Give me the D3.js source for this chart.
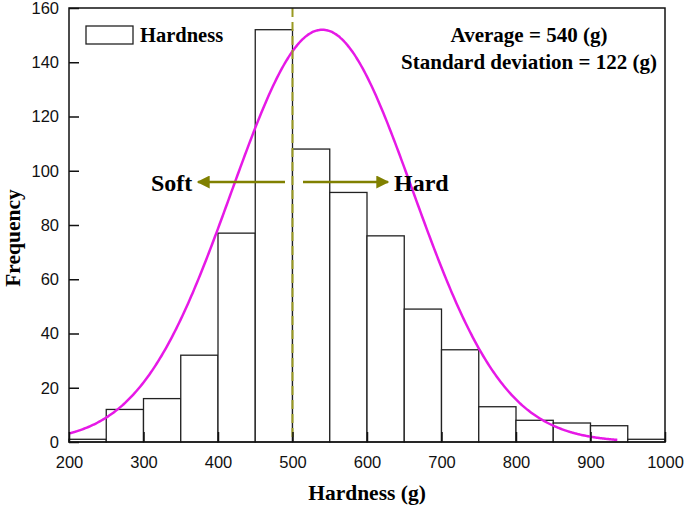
<!DOCTYPE html>
<html><head><meta charset="utf-8">
<script src="https://cdn.jsdelivr.net/npm/d3@7"></script>
<style>body{margin:0;background:#fff}</style>
</head><body>
<svg id="c" width="685" height="507"></svg>
<script>
const binStarts = [200,250,300,350,400,450,500,550,600,650,700,750,800,850,900,950];
const binWidth = 50;
const frequencies = [1,12,16,32,77,152,108,92,76,49,34,13,8,7,6,1];
const xTicks = [200,300,400,500,600,700,800,900,1000];
const yTicks = [0,20,40,60,80,100,120,140,160];
const meanValue = 540, sdValue = 122, curvePeak = 152, curveEnd = 937;
const dividerValue = 500;

const svg = d3.select("#c");
const L=69,R=665,T=8,B=442;
const x = d3.scaleLinear().domain([200,1000]).range([L,R]);
const y = d3.scaleLinear().domain([0,160]).range([B,T]);

// bars
svg.append("g").selectAll("rect").data(binStarts).join("rect")
  .attr("x",(d)=>x(d)).attr("width",(d)=>x(d+binWidth)-x(d))
  .attr("y",(d,i)=>y(frequencies[i])).attr("height",(d,i)=>B-y(frequencies[i]))
  .attr("fill","#fff").attr("stroke","#222").attr("stroke-width",1.3);

// normal curve
const pts = d3.range(200, curveEnd+0.1, 2).map(v=>[v, curvePeak*Math.exp(-0.5*Math.pow((v-meanValue)/sdValue,2))]);
svg.append("path").datum(pts).attr("fill","none").attr("stroke","#e619e6").attr("stroke-width",2.5)
  .attr("d", d3.line().x(d=>x(d[0])).y(d=>y(d[1])).curve(d3.curveMonotoneX));

// dashed divider
svg.append("line").attr("x1",x(dividerValue)).attr("x2",x(dividerValue)).attr("y1",T).attr("y2",B)
  .attr("stroke","#9a9a22").attr("stroke-width",2).attr("stroke-dasharray","9,5");

// axes
const yAxis = d3.axisLeft(y).tickValues(yTicks).tickFormat(d3.format("d")).tickSizeInner(-10).tickSizeOuter(0).tickPadding(10);
const xAxis = d3.axisBottom(x).tickValues(xTicks).tickFormat(d3.format("d")).tickSizeInner(-10).tickSizeOuter(0).tickPadding(11);
const gy = svg.append("g").attr("transform",`translate(${L},0)`).call(yAxis);
const gx = svg.append("g").attr("transform",`translate(0,${B})`).call(xAxis);
[gx,gy].forEach(g=>{
  g.selectAll("text").attr("font-family","Liberation Sans, Arial").attr("font-size",16.5).attr("fill","#111");
  g.selectAll("line").attr("stroke","#111").attr("stroke-width",1.5);
  g.select(".domain").remove();
});
gx.selectAll("text").attr("dy","0.9em");
// frame
svg.append("rect").attr("x",L).attr("y",T).attr("width",R-L).attr("height",B-T)
  .attr("fill","none").attr("stroke","#111").attr("stroke-width",1.5);

// arrows
const defs = svg.append("defs");
defs.append("marker").attr("id","ah").attr("viewBox","0 0 10 10").attr("refX",9).attr("refY",5)
  .attr("markerWidth",15).attr("markerHeight",13).attr("markerUnits","userSpaceOnUse")
  .attr("orient","auto").append("path").attr("d","M0,0L10,5L0,10Z").attr("fill","#808000");
const ay = 182;
svg.append("line").attr("x1",285).attr("x2",198).attr("y1",ay).attr("y2",ay)
  .attr("stroke","#808000").attr("stroke-width",2.5).attr("marker-end","url(#ah)");
svg.append("line").attr("x1",303).attr("x2",388).attr("y1",ay).attr("y2",ay)
  .attr("stroke","#808000").attr("stroke-width",2.5).attr("marker-end","url(#ah)");

const serif = "Liberation Serif, Times New Roman, serif";
svg.append("text").attr("x",151).attr("y",191).text("Soft")
  .attr("font-family",serif).attr("font-weight","bold").attr("font-size",24);
svg.append("text").attr("x",394).attr("y",191).text("Hard")
  .attr("font-family",serif).attr("font-weight","bold").attr("font-size",24);

// legend
svg.append("rect").attr("x",86).attr("y",26).attr("width",47).attr("height",18)
  .attr("fill","#fff").attr("stroke","#222").attr("stroke-width",1.3);
svg.append("text").attr("x",140).attr("y",42).text("Hardness")
  .attr("font-family",serif).attr("font-weight","bold").attr("font-size",20.5);

// stats
svg.append("text").attr("x",529).attr("y",42).attr("text-anchor","middle").text("Average = 540 (g)")
  .attr("font-family",serif).attr("font-weight","bold").attr("font-size",21);
svg.append("text").attr("x",529).attr("y",69).attr("text-anchor","middle").text("Standard deviation = 122 (g)")
  .attr("font-family",serif).attr("font-weight","bold").attr("font-size",21);

// axis titles
svg.append("text").attr("x",367).attr("y",500).attr("text-anchor","middle").text("Hardness (g)")
  .attr("font-family",serif).attr("font-weight","bold").attr("font-size",21.5);
svg.append("text").attr("transform","translate(20,238) rotate(-90)").attr("text-anchor","middle").text("Frequency")
  .attr("font-family",serif).attr("font-weight","bold").attr("font-size",21.5);
</script>
</body></html>
